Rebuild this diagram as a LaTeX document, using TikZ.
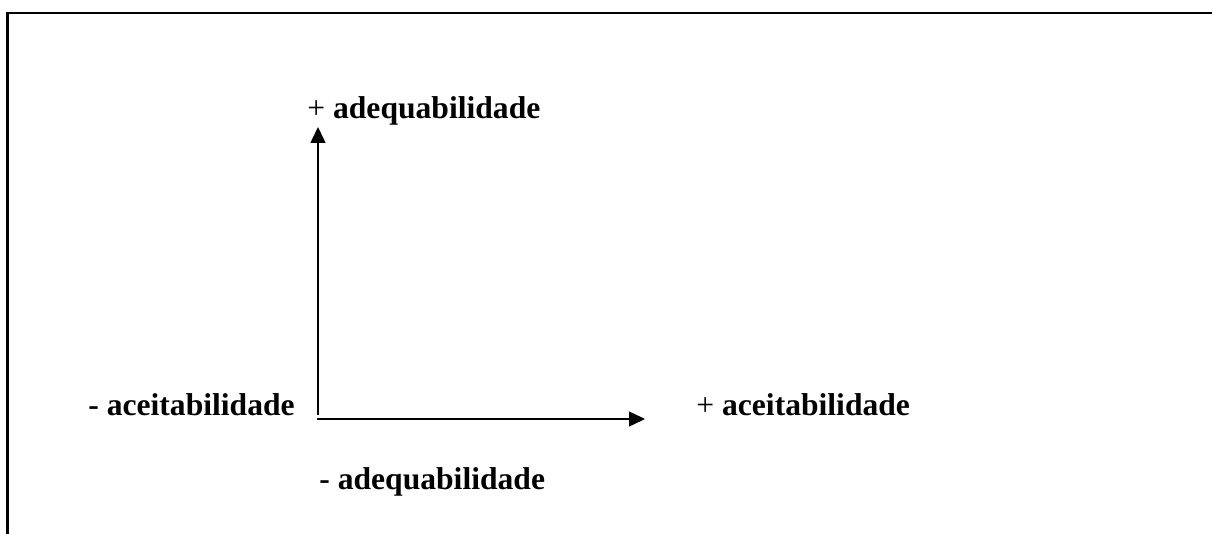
\documentclass[tikz,border=0pt]{standalone}
\usepackage{fontspec}
\setmainfont{Liberation Serif}
\usetikzlibrary{arrows.meta}
\definecolor{ink}{HTML}{000000}
\tikzset{
  axislabel/.style={anchor=base west, inner sep=0, color=ink,
    font=\fontsize{15.8}{18}\selectfont},
  axisline/.style={color=ink, line width=0.75pt,
    -{Triangle[length=8pt,width=7.5pt]}},
}

\begin{document}
\begin{tikzpicture}[x=0.5pt,y=-0.5pt]

\useasboundingbox (0,0) rectangle (1212,534);

% cell border, cut off at right and bottom
\draw[ink, line width=1.2pt] (7.5,534) -- (7.5,13) -- (1212,13);

\coordinate (yfoot) at (318,415);
\coordinate (ytip)  at (318,127);
\coordinate (xfoot) at (317,419);
\coordinate (xtip)  at (645,419);

\draw[axisline] (yfoot) -- (ytip);
\draw[axisline] (xfoot) -- (xtip);

\node[axislabel] (adeqplus)  at (307,119) {+ \textbf{adequabilidade}};
\node[axislabel] (adeqminus) at (319,490) {\textbf{- adequabilidade}};
\node[axislabel] (aceitminus) at (88,416) {\textbf{- aceitabilidade}};
\node[axislabel] (aceitplus)  at (696,416) {+ \textbf{aceitabilidade}};

\end{tikzpicture}
\end{document}
